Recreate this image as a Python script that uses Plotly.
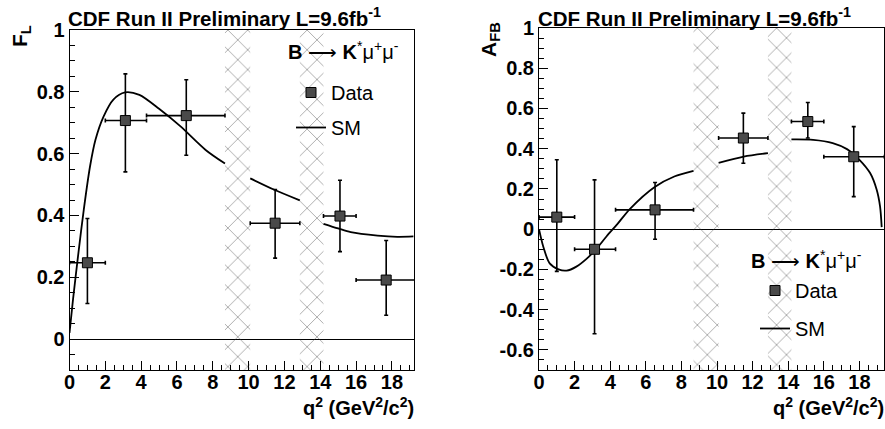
import plotly.graph_objects as go

# ---------------- data ----------------
q2_pts = [1.0, 3.12, 6.52, 11.48, 15.1, 17.68]
bin_lo = [0.0, 2.0, 4.3, 10.09, 14.18, 16.0]
bin_hi = [2.0, 4.3, 8.68, 12.86, 16.0, 19.4]

FL = [0.247, 0.707, 0.723, 0.375, 0.398, 0.191]
FL_hi = [0.390, 0.858, 0.839, 0.484, 0.514, 0.319]
FL_lo = [0.115, 0.541, 0.595, 0.262, 0.283, 0.077]

AFB = [0.060, -0.100, 0.096, 0.453, 0.535, 0.360]
AFB_hi = [0.345, 0.245, 0.232, 0.577, 0.630, 0.510]
AFB_lo = [-0.210, -0.520, -0.050, 0.328, 0.453, 0.162]

# SM predictions (segments separated by None at the vetoed charmonium regions)
sm_fl_q = [0.0, 0.2, 0.5, 0.8, 1.15, 1.45, 1.9, 2.45, 3.1, 3.9, 5.0, 6.2, 7.6, 8.68,
           None, 10.09, 11.4, 12.86,
           None, 14.18, 15.0, 15.7, 17.2, 18.3, 19.2]
sm_fl = [0.02, 0.13, 0.28, 0.42, 0.56, 0.645, 0.72, 0.775, 0.798, 0.79, 0.745, 0.688, 0.612, 0.568,
         None, 0.52, 0.484, 0.449,
         None, 0.373, 0.358, 0.346, 0.335, 0.331, 0.332]

sm_afb_q = [0.0, 0.25, 0.6, 1.1, 1.55, 2.1, 2.7, 3.25, 3.8, 4.4, 5.1, 6.5, 7.6, 8.68,
            None, 10.09, 11.5, 12.86,
            None, 14.18, 15.4, 16.5, 17.3, 18.0, 18.6, 18.97, 19.16, 19.25]
sm_afb = [0.0, -0.09, -0.17, -0.20, -0.206, -0.186, -0.145, -0.095, -0.035, 0.025, 0.10, 0.21, 0.262, 0.29,
          None, 0.33, 0.361, 0.378,
          None, 0.446, 0.444, 0.428, 0.398, 0.345, 0.279, 0.196, 0.112, 0.01]

veto_lo = [8.68, 12.86]
veto_hi = [10.09, 14.18]

x_ticks = [0, 2, 4, 6, 8, 10, 12, 14, 16, 18]
fl_ticks = [0, 0.2, 0.4, 0.6, 0.8, 1]
fl_ticklabels = ["0", "0.2", "0.4", "0.6", "0.8", "1"]
afb_ticks = [-0.6, -0.4, -0.2, 0, 0.2, 0.4, 0.6, 0.8, 1]
afb_ticklabels = ["-0.6", "-0.4", "-0.2", "0", "0.2", "0.4", "0.6", "0.8", "1"]

FONT = "Liberation Sans"
W, H = 885, 429

fig = go.Figure()

# ---------------- vetoed regions (hatched) ----------------
for xa, ya, (ymin, ymax) in [("x", "y", (-0.1, 1.0)), ("x2", "y2", (-0.7, 1.0))]:
    fig.add_trace(go.Bar(
        x=[(a + b) / 2 for a, b in zip(veto_lo, veto_hi)],
        y=[ymax - ymin] * len(veto_lo),
        base=[ymin] * len(veto_lo),
        width=[b - a for a, b in zip(veto_lo, veto_hi)],
        marker=dict(color="rgba(0,0,0,0)", line=dict(width=0),
                    pattern=dict(shape="x", size=14, solidity=0.11,
                                 fgcolor="#333333", bgcolor="rgba(0,0,0,0)")),
        showlegend=False, hoverinfo="skip", xaxis=xa, yaxis=ya))

def err(vals, hi, lo):
    return ([h - v for v, h in zip(vals, hi)], [v - l for v, l in zip(vals, lo)])

def xerr():
    return ([h - q for q, h in zip(q2_pts, bin_hi)], [q - l for q, l in zip(q2_pts, bin_lo)])

marker = dict(symbol="square", size=10, color="#4a4a4a", line=dict(color="black", width=1))

# ---------------- left panel: F_L ----------------
fig.add_trace(go.Scatter(
    x=sm_fl_q, y=sm_fl, mode="lines", name="SM", line=dict(color="black", width=1.8, shape="spline", smoothing=0.8),
    connectgaps=False, xaxis="x", yaxis="y", legend="legend", legendgroup="sm", legendrank=2))
ep, em = err(FL, FL_hi, FL_lo)
xp, xm = xerr()
fig.add_trace(go.Scatter(
    x=q2_pts, y=FL, mode="markers", name="Data", marker=marker,
    error_y=dict(type="data", array=ep, arrayminus=em, color="black", thickness=1.6, width=2),
    error_x=dict(type="data", array=xp, arrayminus=xm, color="black", thickness=1.6, width=2),
    xaxis="x", yaxis="y", legend="legend", legendgroup="data", legendrank=1))

# ---------------- right panel: A_FB ----------------
fig.add_trace(go.Scatter(
    x=sm_afb_q, y=sm_afb, mode="lines", name="SM", line=dict(color="black", width=1.8, shape="spline", smoothing=0.8),
    connectgaps=False, xaxis="x2", yaxis="y2", legend="legend2", legendgroup="sm2", legendrank=2))
ep, em = err(AFB, AFB_hi, AFB_lo)
fig.add_trace(go.Scatter(
    x=q2_pts, y=AFB, mode="markers", name="Data", marker=marker,
    error_y=dict(type="data", array=ep, arrayminus=em, color="black", thickness=1.6, width=2),
    error_x=dict(type="data", array=xp, arrayminus=xm, color="black", thickness=1.6, width=2),
    xaxis="x2", yaxis="y2", legend="legend2", legendgroup="data2", legendrank=1))

tickfont = dict(family=FONT, size=20, color="black", weight="bold")
common_x = dict(tickmode="array", tickvals=x_ticks, ticktext=[str(t) for t in x_ticks],
                ticks="inside", ticklen=9, tickwidth=1, tickcolor="black",
                minor=dict(dtick=0.5, ticks="inside", ticklen=5, tickcolor="black", tickwidth=1),
                showgrid=False, zeroline=False, showline=True, linecolor="black", linewidth=1,
                mirror=True, tickfont=tickfont, fixedrange=True, ticklabelstandoff=-6,
                automargin=False)
common_y = dict(ticks="inside", ticklen=9, tickwidth=1, tickcolor="black",
                minor=dict(dtick=0.05, ticks="inside", ticklen=5, tickcolor="black", tickwidth=1),
                showgrid=False, zeroline=True, zerolinecolor="black", zerolinewidth=1.3,
                showline=True, linecolor="black", linewidth=1,
                mirror=True, tickfont=tickfont, fixedrange=True, automargin=False)

fig.update_layout(
    width=W, height=H, margin=dict(l=0, r=0, t=0, b=0, autoexpand=False),
    paper_bgcolor="white", plot_bgcolor="white",
    barmode="overlay",
    xaxis=dict(domain=[69.5 / W, 414.3 / W], range=[0, 19.25], anchor="y", **common_x),
    yaxis=dict(domain=[(H - 370) / H, (H - 30) / H], range=[-0.1, 1.0], anchor="x",
               tickmode="array", tickvals=fl_ticks, ticktext=fl_ticklabels, **common_y),
    xaxis2=dict(domain=[539 / W, 884 / W], range=[0, 19.38], anchor="y2", **common_x),
    yaxis2=dict(domain=[(H - 370) / H, (H - 28) / H], range=[-0.7, 1.0], anchor="x2",
                tickmode="array", tickvals=afb_ticks, ticktext=afb_ticklabels, **common_y),
    legend=dict(x=291 / W, y=(H - 73) / H, xanchor="left", yanchor="top",
                bgcolor="rgba(0,0,0,0)", tracegroupgap=6, itemwidth=30,
                font=dict(family=FONT, size=20, color="black")),
    legend2=dict(x=755 / W, y=(H - 271) / H, xanchor="left", yanchor="top",
                 bgcolor="rgba(0,0,0,0)", tracegroupgap=9, itemwidth=30,
                 font=dict(family=FONT, size=20, color="black")),
    showlegend=True,
)

title_txt = "CDF Run II Preliminary L=9.6fb<sup>-1</sup>"
decay_txt = "<b>B</b> ⟶ <b>K</b><sup>*</sup>μ<sup>+</sup>μ<sup>-</sup>"
xtitle = "q<sup>2</sup> (GeV<sup>2</sup>/c<sup>2</sup>)"
tfont = dict(family=FONT, size=20.5, color="black", weight="bold")
ann = [
    dict(text=title_txt, x=66 / W, y=(H - 17) / H, xanchor="left", yanchor="middle", font=tfont),
    dict(text=title_txt, x=536 / W, y=(H - 17) / H, xanchor="left", yanchor="middle", font=tfont),
    dict(text="F<sub>L</sub>", x=21 / W, y=(H - 36) / H, xanchor="center", yanchor="middle", textangle=-90,
         font=dict(family=FONT, size=21, color="black", weight="bold")),
    dict(text="A<sub>FB</sub>", x=490 / W, y=(H - 40) / H, xanchor="center", yanchor="middle", textangle=-90,
         font=dict(family=FONT, size=21, color="black", weight="bold")),
    dict(text=xtitle, x=416 / W, y=(H - 406) / H, xanchor="right", yanchor="middle",
         font=dict(family=FONT, size=20, color="black", weight="bold")),
    dict(text=xtitle, x=886 / W, y=(H - 406) / H, xanchor="right", yanchor="middle",
         font=dict(family=FONT, size=20, color="black", weight="bold")),
    dict(text=decay_txt, x=286 / W, y=(H - 51) / H, xanchor="left", yanchor="middle",
         font=dict(family=FONT, size=20, color="black")),
    dict(text=decay_txt, x=749 / W, y=(H - 259) / H, xanchor="left", yanchor="middle",
         font=dict(family=FONT, size=20, color="black")),
]
for a in ann:
    a.update(xref="paper", yref="paper", showarrow=False)
fig.update_layout(annotations=ann)

fig.write_html("out.html")
